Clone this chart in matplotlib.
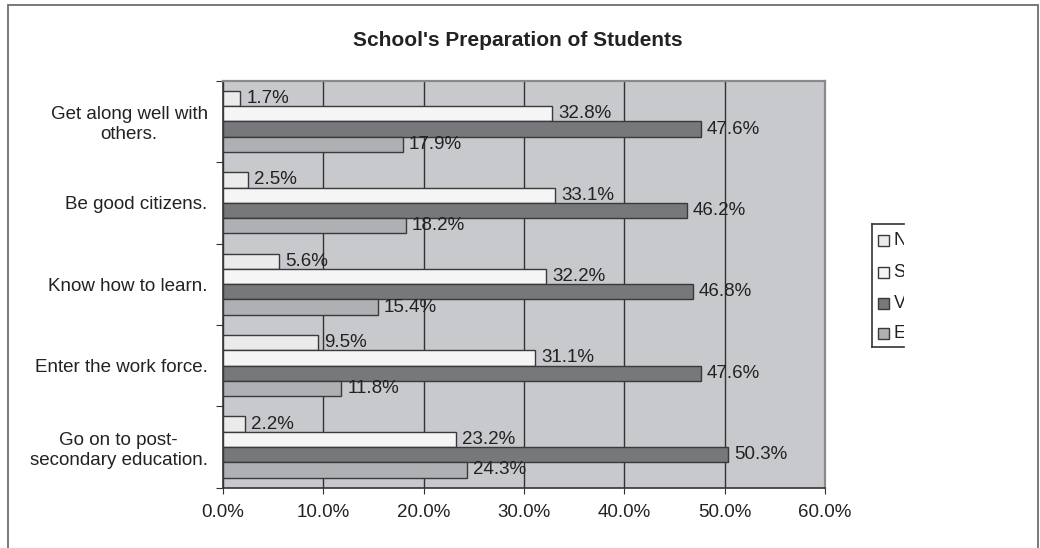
import matplotlib
matplotlib.use('Agg')
import matplotlib.pyplot as plt
from matplotlib.patches import Rectangle
import numpy as np

plt.rcParams['font.family'] = ['Liberation Sans', 'DejaVu Sans']

categories = ['Get along well with\nothers.',
              'Be good citizens.',
              'Know how to learn.',
              'Enter the work force.',
              'Go on to post-\nsecondary education.']
series_names = ['Not well', 'Somewhat well', 'Very well', 'Extremely well']
values = [
    [1.7, 2.5, 5.6, 9.5, 2.2],
    [32.8, 33.1, 32.2, 31.1, 23.2],
    [47.6, 46.2, 46.8, 47.6, 50.3],
    [17.9, 18.2, 15.4, 11.8, 24.3],
]
colors = ['#ebebeb', '#f5f5f5', '#77787b', '#aeb1b4']
xticks = [0, 10, 20, 30, 40, 50, 60]

W, H = 1040, 548
fig = plt.figure(figsize=(W / 100, H / 100), dpi=100)

# outer chart frame
fig.patches.append(Rectangle((8 / W, -0.01), (1038 - 8) / W, 1.01 - 5 / H,
                             transform=fig.transFigure, fill=False,
                             edgecolor='#6e6e6e', linewidth=1.3))

ax = fig.add_axes([223 / W, 1 - 487.7 / H, (825 - 223) / W, (487.7 - 80.7) / H])
ax.set_facecolor('#c8c9cd')

n = len(categories)
h = 0.1875
centers = np.arange(n) + 0.5
for k, (vals, col) in enumerate(zip(values, colors)):
    y = centers + (k - 1.5) * h
    ax.barh(y, vals, height=h, color=col, edgecolor='#3a3a3a', linewidth=1.0, zorder=3)
    for yy, v in zip(y, vals):
        ax.annotate(f'{v:.1f}%', (v, yy), xytext=(4.5, 0), textcoords='offset points',
                    ha='left', va='center', fontsize=13.5, color='#222222', zorder=4)

ax.set_xlim(0, 60)
ax.set_ylim(n, 0)
ax.set_xticks(xticks)
ax.set_xticklabels([f'{t:.1f}%' for t in xticks])
ax.xaxis.grid(True, color='#333333', linewidth=1.0, zorder=1)
ax.set_axisbelow(True)

ax.set_yticks(np.arange(n + 1))
ax.set_yticklabels([])
ax.set_yticks(centers, minor=True)
ax.set_yticklabels(categories, minor=True, multialignment='center')
ax.tick_params(axis='y', which='minor', length=0, pad=11, labelsize=13.5, labelcolor='#222222')
ax.tick_params(axis='y', which='major', length=5, color='#333333')
ax.tick_params(axis='x', length=4, color='#333333', pad=7.5, labelsize=13.5, labelcolor='#222222')

for s in ['left', 'bottom']:
    ax.spines[s].set_color('#333333')
    ax.spines[s].set_linewidth(1.2)
for s in ['top', 'right']:
    ax.spines[s].set_color('#8a8a8a')
    ax.spines[s].set_linewidth(1.6)

fig.text(518 / W, 1 - 40 / H, "School's Preparation of Students", ha='center', va='center',
         fontsize=15, fontweight='bold', color='#222222')

# legend box, cut off at the right edge
lax = fig.add_axes([872 / W, 1 - 347 / H, (904 - 872) / W, (347 - 224) / H])
lax.set_xlim(0, 32)
lax.set_ylim(123, 0)
lax.set_xticks([])
lax.set_yticks([])
lax.spines['right'].set_visible(False)
for s in ['left', 'top', 'bottom']:
    lax.spines[s].set_color('#333333')
    lax.spines[s].set_linewidth(1.2)
leg_y = [16.5, 48, 79, 109]
for name, col, yy in zip(series_names, colors, leg_y):
    lax.add_patch(Rectangle((6, yy - 5.5), 11, 11, facecolor=col,
                            edgecolor='#3a3a3a', linewidth=1.0))
    lax.text(22.5, yy, name, ha='left', va='center', fontsize=13,
             color='#222222', clip_on=True)

fig.savefig('out.png', dpi=100)
